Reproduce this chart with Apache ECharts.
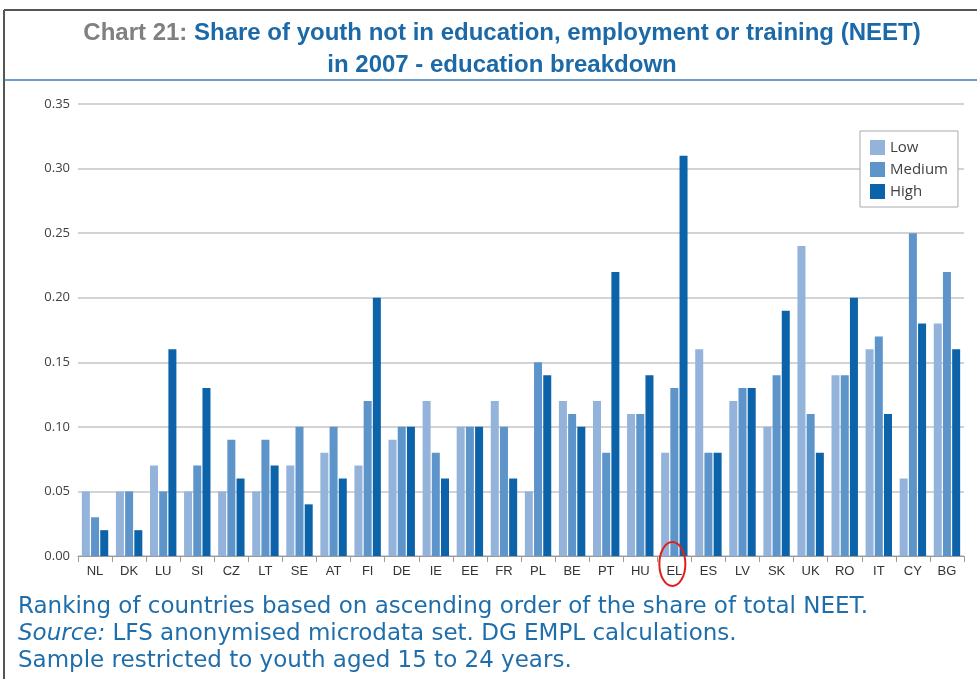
<!DOCTYPE html>
<html><head><meta charset="utf-8">
<script src="https://cdn.jsdelivr.net/npm/echarts@6/dist/echarts.min.js"></script>
<style>html,body{margin:0;padding:0;background:#fff;}#c{width:977px;height:679px;}</style>
</head><body><div id="c"></div>
<script>
const categories = ['NL','DK','LU','SI','CZ','LT','SE','AT','FI','DE','IE','EE','FR','PL','BE','PT','HU','EL','ES','LV','SK','UK','RO','IT','CY','BG'];
const lowValues    = [0.05,0.05,0.07,0.05,0.05,0.05,0.07,0.08,0.07,0.09,0.12,0.10,0.12,0.05,0.12,0.12,0.11,0.08,0.16,0.12,0.10,0.24,0.14,0.16,0.06,0.18];
const mediumValues = [0.03,0.05,0.05,0.07,0.09,0.09,0.10,0.10,0.12,0.10,0.08,0.10,0.10,0.15,0.11,0.08,0.11,0.13,0.08,0.13,0.14,0.11,0.14,0.17,0.25,0.22];
const highValues   = [0.02,0.02,0.16,0.13,0.06,0.07,0.04,0.06,0.20,0.10,0.06,0.10,0.06,0.14,0.10,0.22,0.14,0.31,0.08,0.13,0.19,0.08,0.20,0.11,0.18,0.16];
const seriesNames = ['Low','Medium','High'];
const yTicks = [0,0.05,0.10,0.15,0.20,0.25,0.30,0.35];
const titleLead = 'Chart 21: ';
const titleRest1 = 'Share of youth not in education, employment or training (NEET)';
const titleLine2 = 'in 2007 - education breakdown';
const notes = ['Ranking of countries based on ascending order of the share of total NEET.',
  'Source:', ' LFS anonymised microdata set. DG EMPL calculations.',
  'Sample restricted to youth aged 15 to 24 years.'];
const highlightCategory = 'EL';

const colors = ['#93b3da','#5d95cb','#0c63a9'];
const chart = echarts.init(document.getElementById('c'), null, {renderer:'canvas'});
const narrow = '"Liberation Sans","Arial",sans-serif';
const bodyFont = '"DejaVu Sans",sans-serif';
const smallFont = '"Open Sans","Noto Sans",sans-serif';
const noteColor = '#1f6eac';

const option = {
  animation:false,
  backgroundColor:'#fff',
  color:colors,
  legend:{
    data:seriesNames, orient:'vertical', left:860, top:131, width:104,
    padding:[9,10,8,10], itemGap:7, itemWidth:15, itemHeight:15,
    backgroundColor:'#fff', borderColor:'#a9a9a9', borderWidth:1,
    textStyle:{color:'#404040',fontSize:15,fontFamily:smallFont},
    icon:'rect'
  },
  grid:{left:78,right:13,top:104,bottom:123,containLabel:false},
  xAxis:{
    type:'category', data:categories,
    axisLine:{lineStyle:{color:'#9a9a9a',width:1}},
    axisTick:{show:true,length:6,lineStyle:{color:'#9a9a9a'}},
    axisLabel:{color:'#333',fontSize:13,fontFamily:narrow,margin:9}
  },
  yAxis:{
    type:'value', min:0, max:0.35, interval:0.05,
    axisLine:{show:false}, axisTick:{show:false},
    splitLine:{lineStyle:{color:'#c4c4c4',width:1.5}},
    axisLabel:{color:'#404040',fontSize:13,fontFamily:smallFont,margin:8,
      formatter:v=>v.toFixed(2)}
  },
  series:[
    {name:seriesNames[0],type:'bar',data:lowValues,barWidth:8,barGap:'15%'},
    {name:seriesNames[1],type:'bar',data:mediumValues,barWidth:8,barGap:'15%'},
    {name:seriesNames[2],type:'bar',data:highValues,barWidth:8,barGap:'15%'}
  ],
  graphic:[
    {type:'line',shape:{x1:4,y1:10,x2:977,y2:10},style:{stroke:'#555',lineWidth:2}},
    {type:'line',shape:{x1:4,y1:10,x2:4,y2:679},style:{stroke:'#555',lineWidth:2}},
    {type:'line',shape:{x1:4,y1:80,x2:977,y2:80},style:{stroke:'#3d7cb6',lineWidth:1.5}},
    {type:'text',x:502,y:17,style:{
      text:'{g|'+titleLead+'}{b|'+titleRest1+'}\n{b|'+titleLine2+'}',align:'center',
      rich:{
        g:{fill:'#808080',fontSize:24,fontFamily:narrow,fontWeight:'bold',lineHeight:32},
        b:{fill:'#1c69a8',fontSize:24,fontFamily:narrow,fontWeight:'bold',lineHeight:32}
      }}},
    {type:'text',left:18,top:596,style:{text:notes[0],fill:noteColor,font:'23px '+bodyFont}},
    {type:'text',left:18,top:623,style:{text:'{i|'+notes[1]+'}{n|'+notes[2]+'}',fill:noteColor,
      rich:{i:{fontStyle:'italic',fontSize:23,fontFamily:bodyFont,fill:noteColor},n:{fontSize:23,fontFamily:bodyFont,fill:noteColor}}}},
    {type:'text',left:18,top:650,style:{text:notes[3],fill:noteColor,font:'23px '+bodyFont}}
  ]
};
chart.setOption(option);
const px = chart.convertToPixel({xAxisIndex:0}, highlightCategory);
const py = chart.convertToPixel({yAxisIndex:0}, 0);
chart.setOption({graphic:option.graphic.concat([
  {type:'ellipse',z:100,shape:{cx:px-2,cy:py+8,rx:13,ry:22},style:{fill:'none',stroke:'#e0201b',lineWidth:2}}
])});
</script></body></html>
